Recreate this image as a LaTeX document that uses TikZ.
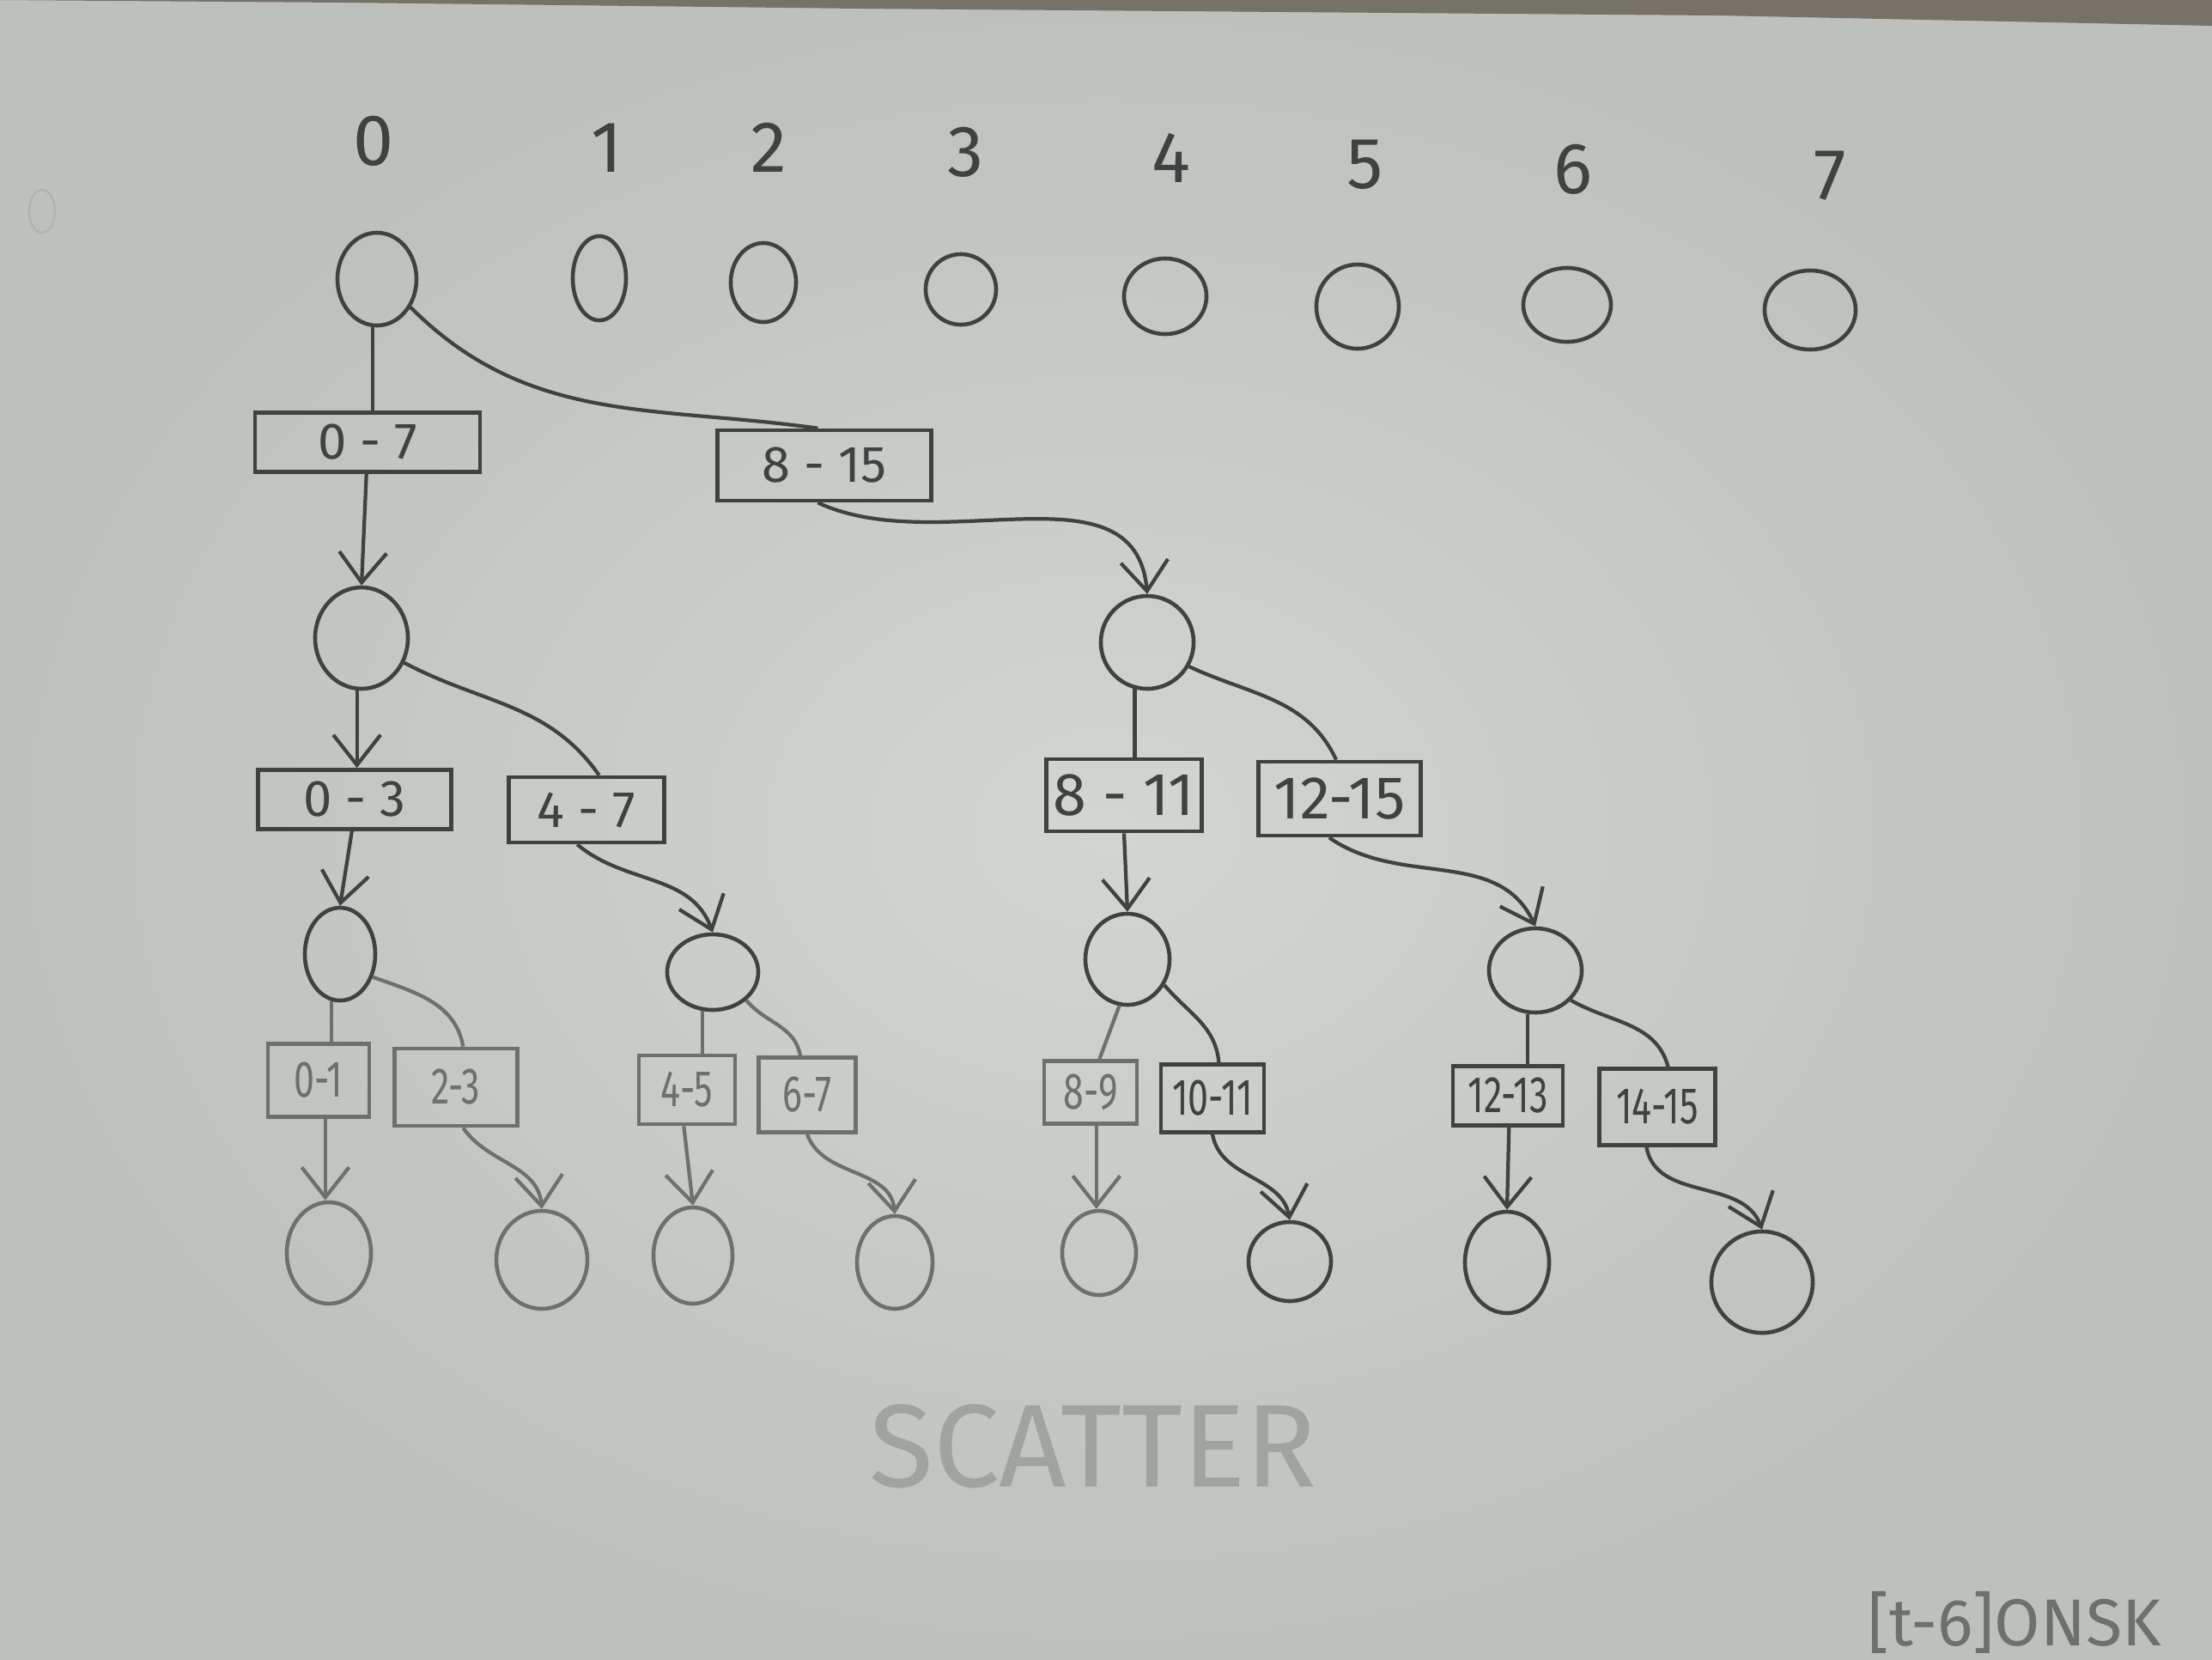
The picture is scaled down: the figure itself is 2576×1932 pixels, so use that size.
\documentclass[tikz,border=0pt]{standalone}
\usepackage{fontspec}
\setmainfont{Fira Sans}
\newfontfamily\narrowfont[FakeStretch=0.72]{Fira Sans}
\usetikzlibrary{shapes.geometric,arrows.meta}
\definecolor{paper}{RGB}{210,214,208}
\definecolor{paperdark}{RGB}{188,193,188}
\definecolor{band}{RGB}{118,114,104}
\definecolor{pencil}{RGB}{62,66,64}
\definecolor{pencillight}{RGB}{108,113,110}
\definecolor{faint}{RGB}{160,164,161}
\definecolor{ghost}{RGB}{176,181,177}
\begin{document}
\begin{tikzpicture}[x=0.01cm,y=-0.01cm,
  circ/.style={ellipse,draw=pencil,line width=1.3pt,inner sep=0pt},
  circl/.style={circ,draw=pencillight},
  lab/.style={rectangle,draw=pencil,line width=1.3pt,inner sep=0pt,text=pencil,font=\fontsize{17}{20}\selectfont},
  labs/.style={lab,font=\narrowfont\fontsize{17}{20}\selectfont},
  labl/.style={labs,draw=pencillight,text=pencillight},
  idx/.style={text=pencil,font=\fontsize{24}{28}\selectfont},
  link/.style={draw=pencil,line width=1.2pt},
  linkl/.style={draw=pencillight,line width=1.2pt},
  arr/.style={link,-{Straight Barb[length=3.5mm,width=5.5mm]}},
  arrl/.style={linkl,-{Straight Barb[length=3.5mm,width=5.5mm]}},
]
\useasboundingbox (0,0) rectangle (2576,1932);
\shade[inner color=paper,outer color=paperdark] (0,0) rectangle (2576,1932);
\fill[band] (0,0) -- (2576,0) -- (2576,30) -- (2000,18) -- (1000,10) -- (400,3) -- (0,0) -- cycle;

% faint show-through mark
\node[ellipse,draw=ghost,line width=0.8pt,minimum width=0.3cm,minimum height=0.5cm,inner sep=0pt] (ghost) at (49,246) {};

% index labels
\node[idx] (t0) at (435,164) {0};
\node[idx] (t1) at (707,172) {1};
\node[idx] (t2) at (895,172) {2};
\node[idx] (t3) at (1125,177) {3};
\node[idx] (t4) at (1364,184) {4};
\node[idx] (t5) at (1590,192) {5};
\node[idx] (t6) at (1832,197) {6};
\node[idx] (t7) at (2131,205) {7};

% top circles
\node[circ,minimum width=0.92cm,minimum height=1.08cm] (c0) at (439,325) {};
\node[circ,minimum width=0.62cm,minimum height=0.98cm] (c1) at (698,324) {};
\node[circ,minimum width=0.76cm,minimum height=0.92cm] (c2) at (889,329) {};
\node[circ,minimum width=0.82cm,minimum height=0.82cm] (c3) at (1119,337) {};
\node[circ,minimum width=0.96cm,minimum height=0.88cm] (c4) at (1357,345) {};
\node[circ,minimum width=0.96cm,minimum height=0.98cm] (c5) at (1581,357) {};
\node[circ,minimum width=1.02cm,minimum height=0.86cm] (c6) at (1825,355) {};
\node[circ,minimum width=1.06cm,minimum height=0.92cm] (c7) at (2108,361) {};

% level 1
\node[lab,minimum width=2.62cm,minimum height=0.69cm] (b07) at (428,515) {0 - 7};
\node[lab,minimum width=2.49cm,minimum height=0.82cm] (b815) at (960,542) {8 - 15};
\node[circ,minimum width=1.08cm,minimum height=1.18cm] (n1) at (421,743) {};
\node[circ,minimum width=1.08cm,minimum height=1.08cm] (n2) at (1336,748) {};

% level 2
\node[lab,minimum width=2.25cm,minimum height=0.69cm] (b03) at (413,931) {0 - 3};
\node[lab,minimum width=1.81cm,minimum height=0.76cm] (b47) at (683,943) {4 - 7};
\node[lab,minimum width=1.81cm,minimum height=0.84cm,font=\fontsize{20}{24}\selectfont] (b811) at (1309,926) {8 - 11};
\node[lab,minimum width=1.89cm,minimum height=0.86cm,font=\fontsize{20}{24}\selectfont] (b1215) at (1560,930) {12-15};
\node[circ,minimum width=0.82cm,minimum height=1.08cm] (n3) at (396,1111) {};
\node[circ,minimum width=1.06cm,minimum height=0.88cm] (n4) at (830,1132) {};
\node[circ,minimum width=0.98cm,minimum height=1.06cm] (n5) at (1313,1117) {};
\node[circ,minimum width=1.08cm,minimum height=0.98cm] (n6) at (1788,1130) {};

% level 3
\node[labl,minimum width=1.18cm,minimum height=0.85cm] (b01) at (371,1258) {0-1};
\node[labl,minimum width=1.43cm,minimum height=0.90cm] (b23) at (531,1266) {2-3};
\node[labl,minimum width=1.12cm,minimum height=0.80cm] (b45) at (800,1269) {4-5};
\node[labl,minimum width=1.13cm,minimum height=0.87cm] (b67) at (940,1275) {6-7};
\node[labl,minimum width=1.08cm,minimum height=0.73cm] (b89) at (1270,1272) {8-9};
\node[labs,minimum width=1.20cm,minimum height=0.79cm] (b1011) at (1412,1279) {10-11};
\node[labs,minimum width=1.28cm,minimum height=0.69cm] (b1213) at (1756,1276) {12-13};
\node[labs,minimum width=1.35cm,minimum height=0.89cm] (b1415) at (1930,1289) {14-15};

% leaves
\node[circl,minimum width=0.98cm,minimum height=1.18cm] (l1) at (383,1459) {};
\node[circl,minimum width=1.06cm,minimum height=1.14cm] (l2) at (631,1467) {};
\node[circl,minimum width=0.92cm,minimum height=1.12cm] (l3) at (807,1462) {};
\node[circl,minimum width=0.88cm,minimum height=1.08cm] (l4) at (1042,1470) {};
\node[circl,minimum width=0.86cm,minimum height=0.98cm] (l5) at (1280,1459) {};
\node[circ,minimum width=0.96cm,minimum height=0.92cm] (l6) at (1502,1469) {};
\node[circ,minimum width=0.98cm,minimum height=1.18cm] (l7) at (1755,1470) {};
\node[circ,minimum width=1.18cm,minimum height=1.18cm] (l8) at (2052,1493) {};

% connectors level 0 -> 1
\draw[link] (c0.-95) -- (c0.-95 |- b07.north);
\draw[arr] (b07.-92) -- (n1.north);
\draw[link] (c0.-40) to[out=-45,in=172] (b815.100);
\draw[arr] (b815.-100) to[out=-25,in=95] (n2.north);

% level 1 -> 2
\draw[arr] (n1.-95) -- (n1.-95 |- b03.north);
\draw[link] (n1.-30) to[out=-28,in=125] (b47.70);
\draw[arr] (b03.-95) -- (n3.north);
\draw[arr] (b47.-105) to[out=-40,in=110] (n4.north);
\draw[link] (n2.-105) -- (n2.-105 |- b811.north);
\draw[link] (n2.-30) to[out=-25,in=115] (b1215.95);
\draw[arr] (b811.south) -- (n5.north);
\draw[arr] (b1215.-105) to[out=-35,in=115] (n6.north);

% level 2 -> 3
\draw[linkl] (n3.-100) -- (n3.-100 |- b01.north);
\draw[linkl] (n3.-35) to[out=-20,in=100] (b23.80);
\draw[arrl] (b01.-80) -- (b01.-80 |- l1.north);
\draw[arrl] (b23.-80) to[out=-55,in=95] (l2.north);
\draw[linkl] (n4.-105) -- (n4.-105 |- b45.north);
\draw[linkl] (n4.-40) to[out=-50,in=100] (b67.100);
\draw[arrl] (b45.-95) -- (l3.north);
\draw[arrl] (b67.-90) to[out=-70,in=95] (l4.north);
\draw[linkl] (n5.-100) -- (b89.75);
\draw[link] (n5.-35) to[out=-50,in=95] (b1011.80);
\draw[arrl] (b89.-80) -- (b89.-80 |- l5.north);
\draw[arr] (b1011.-90) to[out=-80,in=100] (l6.north);
\draw[link] (n6.-100) -- (n6.-100 |- b1213.north);
\draw[link] (n6.-40) to[out=-30,in=105] (b1415.75);
\draw[arr] (b1213.-88) -- (l7.north);
\draw[arr] (b1415.-105) to[out=-80,in=110] (l8.north);

% title and show-through text
\node[text=faint,font=\fontsize{39}{44}\selectfont] (title) at (1273,1684) {SCATTER};
\node[anchor=south west,text=pencillight,font=\fontsize{22}{26}\selectfont,inner sep=0pt] (back) at (2175,1926) {[t-6]ONSK};
\end{tikzpicture}
\end{document}
